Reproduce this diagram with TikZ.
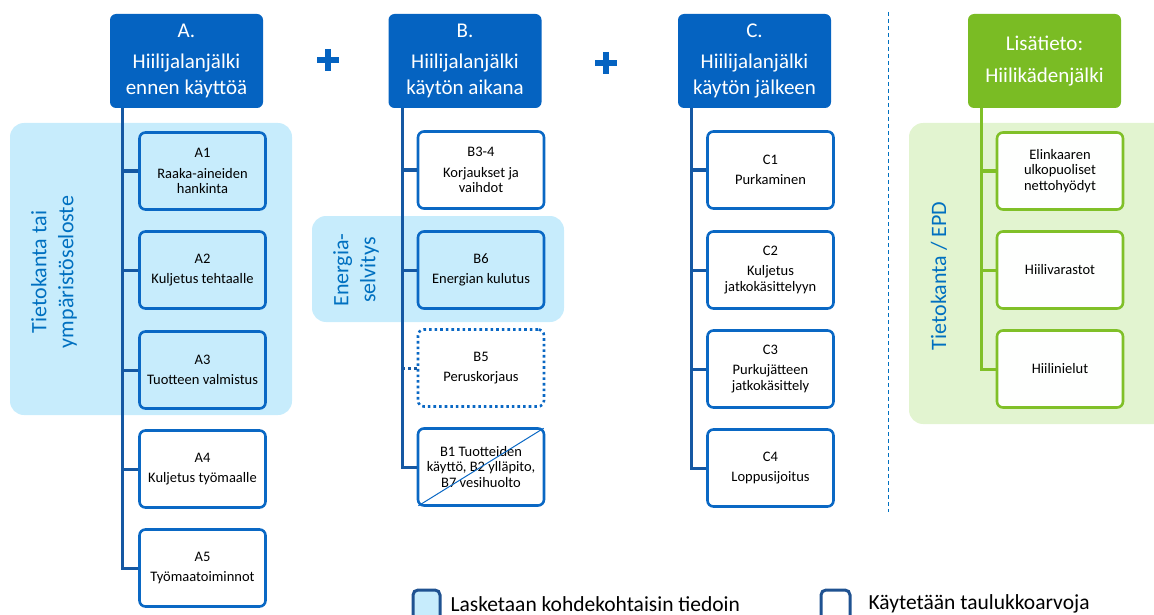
\documentclass[tikz,border=0pt]{standalone}
\usepackage{fontspec}
\setmainfont{Carlito}
\usetikzlibrary{positioning}

\definecolor{headblue}{RGB}{5,99,193}
\definecolor{boxblue}{RGB}{10,104,196}
\definecolor{trunkblue}{RGB}{21,88,163}
\definecolor{areablue}{RGB}{199,236,252}
\definecolor{labelblue}{RGB}{0,112,192}
\definecolor{headgreen}{RGB}{122,188,36}
\definecolor{boxgreen}{RGB}{128,192,40}
\definecolor{areagreen}{RGB}{226,244,208}
\definecolor{legendblue}{RGB}{31,82,145}

\begin{document}
\begin{tikzpicture}[x=1pt, y=-1pt,
  head/.style={fill=headblue, rounded corners=6pt, minimum width=153pt, minimum height=94pt, text=white, align=center, font=\fontsize{21}{26}\selectfont},
  item/.style={draw=boxblue, line width=2.6pt, rounded corners=6pt, minimum width=126pt, minimum height=77pt, align=center, font=\fontsize{14.5}{15.5}\selectfont},
  gitem/.style={item, draw=boxgreen, fill=white!97!areagreen},
  dotbox/.style={item, dash pattern=on 2.6pt off 3pt},
  trunk/.style={draw=trunkblue, line width=3pt},
  gtrunk/.style={draw=boxgreen, line width=3pt},
  side/.style={rotate=90, text=labelblue, align=center, font=\fontsize{22}{27}\selectfont},
  legendtext/.style={anchor=west, font=\fontsize{21.5}{24}\selectfont}]

\useasboundingbox (0,0) rectangle (1154,615);
\clip (0,0) rectangle (1154,615);

% background areas
\fill[areablue, rounded corners=14pt] (10,123) rectangle (292,415);
\fill[areablue, rounded corners=14pt] (312,216) rectangle (564,322);
\fill[areagreen, rounded corners=14pt] (909,123) rectangle (1180,424);

\node[side] (dbA) at (54,272) {Tietokanta tai\\ympäristöseloste};
\node[side] (dbB) at (356,270) {Energia-\\selvitys};
\node[side] (dbL) at (939,276) {Tietokanta / EPD};

% headers
\node[head] (hA) at (186.5,61) {A.\\[5pt]Hiilijalanjälki\\ennen käyttöä};
\node[head] (hB) at (465,61) {B.\\[5pt]Hiilijalanjälki\\käytön aikana};
\node[head] (hC) at (754.5,61) {C.\\[5pt]Hiilijalanjälki\\käytön jälkeen};
\node[head, fill=headgreen] (hL) at (1044.5,61) {Lisätieto:\\[6pt]Hiilikädenjälki};

\foreach \px/\py in {328/60, 606/63}
  \draw[headblue, line width=6pt] (\px-11,\py) -- (\px+11,\py) (\px,\py-11) -- (\px,\py+11);

\draw[labelblue, line width=1pt, dash pattern=on 4pt off 3pt] (888,12) -- (888,512);

% column A
\node[item] (a1) at (202.5,171) {A1\\[5pt]Raaka-aineiden\\hankinta};
\node[item] (a2) at (202.5,270) {A2\\[5pt]Kuljetus tehtaalle};
\node[item] (a3) at (202.5,370) {A3\\[5pt]Tuotteen valmistus};
\node[item] (a4) at (202.5,469) {A4\\[5pt]Kuljetus työmaalle};
\node[item] (a5) at (202.5,568) {A5\\[5pt]Työmaatoiminnot};

% column B
\node[item] (b34) at (481,170) {B3-4\\[5pt]Korjaukset ja\\vaihdot};
\node[item] (b6) at (481,270) {B6\\[5pt]Energian kulutus};
\node[dotbox] (b5) at (481,368) {B5\\[5pt]Peruskorjaus};
\node[item] (b1) at (481,467) {B1 Tuotteiden\\käyttö, B2 ylläpito,\\B7 vesihuolto};
\draw[boxblue, line width=1pt, shorten <=2pt, shorten >=2pt] (b1.south west) -- (b1.north east);

% column C
\node[item] (c1) at (770.5,170) {C1\\[5pt]Purkaminen};
\node[item] (c2) at (770.5,270) {C2\\[5pt]Kuljetus\\jatkokäsittelyyn};
\node[item] (c3) at (770.5,369) {C3\\[5pt]Purkujätteen\\jatkokäsittely};
\node[item] (c4) at (770.5,468) {C4\\[5pt]Loppusijoitus};

% handprint column
\node[gitem] (l1) at (1060,171) {Elinkaaren\\ulkopuoliset\\nettohyödyt};
\node[gitem] (l2) at (1060,270) {Hiilivarastot};
\node[gitem] (l3) at (1060,369) {Hiilinielut};

% trunks
\coordinate (tA) at ([xshift=13pt]hA.south west);
\coordinate (tB) at ([xshift=14pt]hB.south west);
\coordinate (tC) at ([xshift=14pt]hC.south west);
\coordinate (tL) at ([xshift=14pt]hL.south west);

\draw[trunk] (tA) |- (a5.west);
\foreach \n in {a1,a2,a3,a4}
  \draw[trunk] (tA |- \n.west) -- (\n.west);

\draw[trunk] (tB) |- (b1.west);
\foreach \n in {b34,b6}
  \draw[trunk] (tB |- \n.west) -- (\n.west);
\draw[trunk, dash pattern=on 3pt off 3pt] (tB |- b5.west) -- (b5.west);

\draw[trunk] (tC) |- (c4.west);
\foreach \n in {c1,c2,c3}
  \draw[trunk] (tC |- \n.west) -- (\n.west);

\draw[gtrunk] (tL) |- (l3.west);
\foreach \n in {l1,l2}
  \draw[gtrunk] (tL |- \n.west) -- (\n.west);

% legend
\node[draw=legendblue, fill=areablue, line width=3pt, rounded corners=5pt, minimum width=27pt, minimum height=34pt, anchor=north west] (keyA) at (411.5,588.5) {};
\node[legendtext] (keyAtext) at (447,604) {Lasketaan kohdekohtaisin tiedoin};
\node[draw=legendblue, fill=white, line width=3pt, rounded corners=5pt, minimum width=29pt, minimum height=34pt, anchor=north west] (keyB) at (819.5,588.5) {};
\node[legendtext] (keyBtext) at (865,604) {Käytetään taulukkoarvoja};
\end{tikzpicture}
\end{document}
